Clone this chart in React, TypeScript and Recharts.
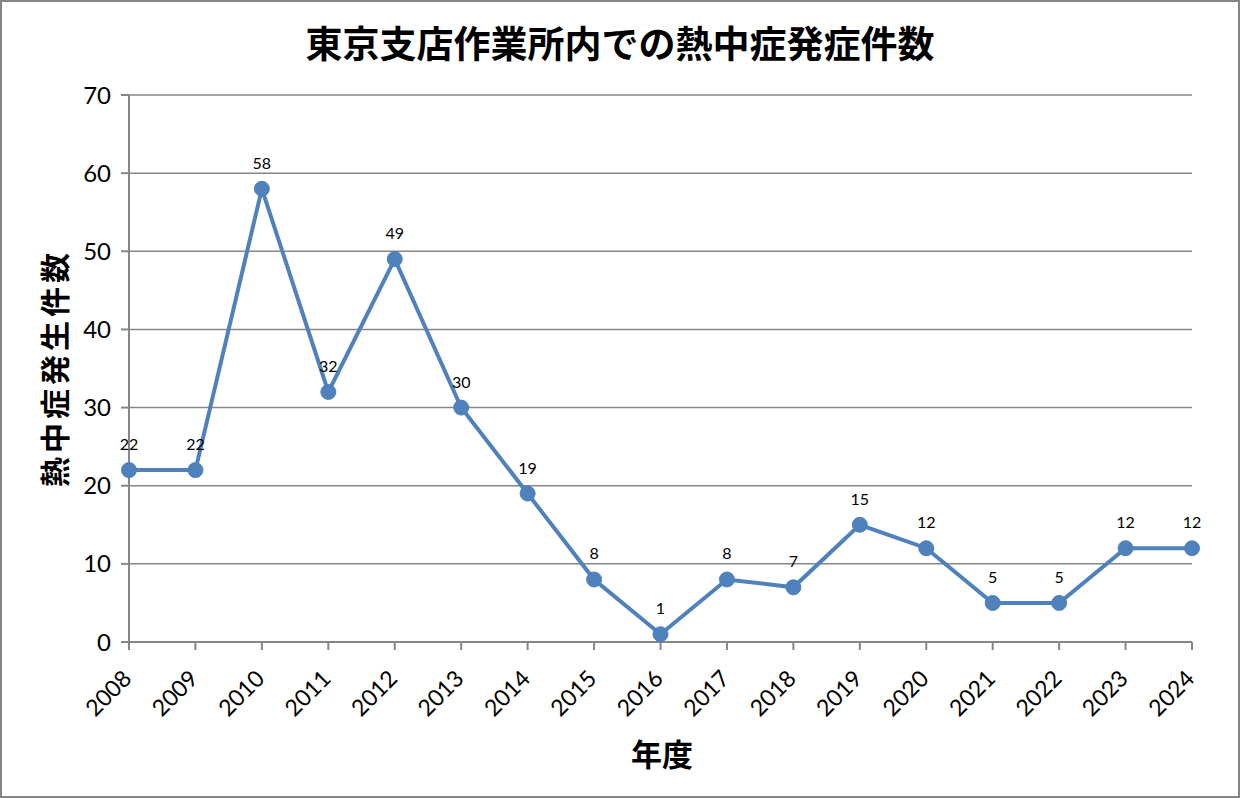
import { LineChart, Line, XAxis, YAxis, CartesianGrid, LabelList } from 'recharts'

const years = ['2008', '2009', '2010', '2011', '2012', '2013', '2014', '2015', '2016', '2017', '2018', '2019', '2020', '2021', '2022', '2023', '2024']
const cases = [22, 22, 58, 32, 49, 30, 19, 8, 1, 8, 7, 15, 12, 5, 5, 12, 12]
const yTicks = [0, 10, 20, 30, 40, 50, 60, 70]

const data = years.map((year, i) => ({ year, cases: cases[i] }))

const numFont = 'Lato, "Open Sans", sans-serif'
const jpFont = '"Noto Sans CJK JP", sans-serif'
const gray = '#868686'
const blue = '#4f81bd'

const XTick = ({ x, y, payload }: any) => (
  <text
    x={x + 4}
    y={y + 28}
    transform={`rotate(-45 ${x + 4} ${y + 28})`}
    textAnchor="end"
    fontSize={23}
    fontFamily={numFont}
    fill="#000"
  >
    {payload.value}
  </text>
)

const App = () => {
  return (
    <div style={{ position: 'absolute', left: 0, top: 0, width: 1240, height: 798, background: '#fff' }}>
      <div
        style={{
          position: 'absolute',
          inset: 0,
          border: `2px solid ${gray}`,
          boxSizing: 'border-box'
        }}
      />
      <div
        style={{
          position: 'absolute',
          top: 42,
          left: 620,
          transform: 'translate(-50%, -50%)',
          whiteSpace: 'nowrap',
          fontFamily: jpFont,
          fontWeight: 700,
          fontSize: 37
        }}
      >
        東京支店作業所内での熱中症発症件数
      </div>
      <div
        style={{
          position: 'absolute',
          left: 53,
          top: 368,
          transform: 'translate(-50%, -50%) rotate(-90deg)',
          whiteSpace: 'nowrap',
          fontFamily: jpFont,
          fontWeight: 700,
          fontSize: 30,
          letterSpacing: 4
        }}
      >
        熱中症発生件数
      </div>
      <div
        style={{
          position: 'absolute',
          left: 662,
          top: 752,
          transform: 'translate(-50%, -50%)',
          whiteSpace: 'nowrap',
          fontFamily: jpFont,
          fontWeight: 700,
          fontSize: 31
        }}
      >
        年度
      </div>
      <div style={{ position: 'absolute', left: 0, top: 0 }}>
        <LineChart
          width={1240}
          height={798}
          data={data}
          margin={{ top: 95, right: 48, bottom: 96, left: 69 }}
        >
          <CartesianGrid horizontal vertical={false} stroke={gray} strokeWidth={1.5} />
          <XAxis
            dataKey="year"
            padding={{ left: 0, right: 0 }}
            height={60}
            axisLine={{ stroke: gray, strokeWidth: 2 }}
            tickLine={{ stroke: gray, strokeWidth: 2 }}
            tickSize={8}
            tick={<XTick />}
            interval={0}
          />
          <YAxis
            domain={[0, 70]}
            ticks={yTicks}
            width={60}
            axisLine={{ stroke: gray, strokeWidth: 2 }}
            tickLine={{ stroke: gray, strokeWidth: 2 }}
            tickSize={8}
            tickMargin={10}
            tick={{ fontSize: 24, fill: '#000', fontFamily: numFont }}
          />
          <Line
            type="linear"
            dataKey="cases"
            stroke={blue}
            strokeWidth={4}
            dot={{ r: 7.5, fill: blue, stroke: blue, strokeWidth: 1 }}
            isAnimationActive={false}
          >
            <LabelList
              dataKey="cases"
              position="top"
              offset={20}
              fontSize={16}
              fill="#000"
              fontFamily={numFont}
            />
          </Line>
        </LineChart>
      </div>
    </div>
  )
}

export default App
